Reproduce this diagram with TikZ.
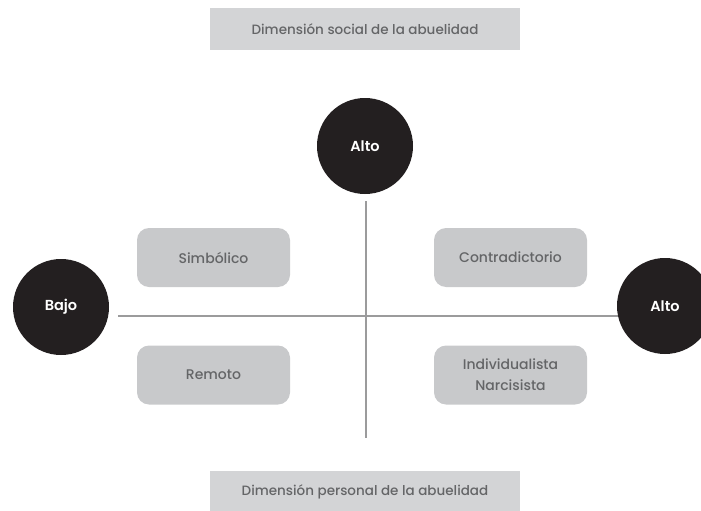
\documentclass[tikz,border=0pt]{standalone}
\usepackage{fontspec}
\setmainfont{Poppins}[BoldFont={* Medium}]
\newfontfamily\heavyfont{Poppins}[UprightFont={* SemiBold}]
\definecolor{dark}{HTML}{231F20}
\definecolor{boxgray}{HTML}{C8C9CB}
\definecolor{labgray}{HTML}{D3D4D6}
\definecolor{txtgray}{HTML}{646567}
\definecolor{linegray}{HTML}{9B9B9C}
\tikzset{
  dot/.style={circle, fill=dark, minimum size=96pt, inner sep=0pt, text=white, font=\fontsize{14.5}{16}\selectfont\heavyfont},
  quad/.style={rounded corners=12pt, fill=boxgray, minimum width=153pt, minimum height=59pt, inner sep=0pt, text=txtgray, align=center, font=\fontsize{14}{21}\selectfont\bfseries},
  lab/.style={fill=labgray, minimum width=310pt, minimum height=42pt, inner sep=0pt, text=txtgray, font=\fontsize{13.5}{16}\selectfont\bfseries},
  axis/.style={draw=linegray, line width=2.6pt}
}
\begin{document}
\begin{tikzpicture}[x=1pt,y=-1pt]
\useasboundingbox (0,0) rectangle (701,511);
\node[lab] (top) at (365,29) {Dimensión social de la abuelidad};
\node[lab] (bot) at (365,492) {Dimensión personal de la abuelidad};
\coordinate (vtop) at (366,201);
\coordinate (vbot) at (366,438);
\coordinate (hl) at (118,316);
\coordinate (hr) at (620,316);
\draw[axis] (vtop) -- (vbot);
\draw[axis] (hl) -- (hr);
\node[dot] (alto1) at (365,146) {Alto};
\node[dot] (bajo) at (61,307) {Bajo};
\node[dot] (alto2) at (665,306) {Alto};
\node[quad] (simb) at (213.5,257.5) {Simbólico};
\node[quad] (rem) at (213.5,375) {Remoto};
\node[quad] (contra) at (510.5,257.5) {Contradictorio};
\node[quad] (indiv) at (510.5,375) {Individualista\\Narcisista};
\end{tikzpicture}
\end{document}
